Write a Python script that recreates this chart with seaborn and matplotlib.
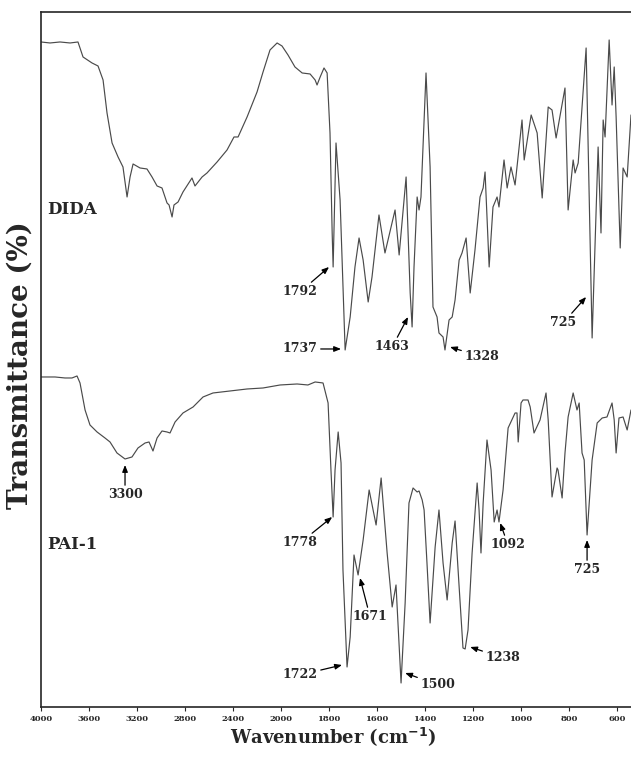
import numpy as np
import pandas as pd
import matplotlib
matplotlib.use('Agg')
import matplotlib.pyplot as plt
import seaborn as sns

# FTIR spectra, transmittance in arbitrary units (curves offset vertically)
dida_wn = [4000, 3925, 3842, 3758, 3692, 3650, 3575, 3525, 3483, 3450, 3408, 3358, 3317, 3283,
           3258, 3233, 3175, 3117, 3075, 3033, 2992, 2950, 2933, 2908, 2892, 2858, 2817, 2742,
           2717, 2658, 2617, 2533, 2450, 2392, 2358, 2283, 2200, 2150, 2092, 2033, 1996, 1971,
           1942, 1912, 1879, 1858, 1850, 1837, 1821, 1808, 1796, 1787, 1783, 1771, 1754, 1733,
           1712, 1692, 1675, 1658, 1637, 1621, 1592, 1567, 1525, 1508, 1479, 1462, 1454, 1446,
           1433, 1425, 1417, 1396, 1379, 1367, 1350, 1342, 1325, 1317, 1300, 1287, 1275, 1258,
           1246, 1229, 1212, 1192, 1171, 1158, 1150, 1133, 1117, 1100, 1092, 1071, 1058, 1042,
           1025, 996, 987, 958, 933, 912, 887, 871, 854, 817, 804, 783, 775, 762, 729, 704,
           679, 667, 658, 650, 633, 621, 612, 604, 587, 575, 558, 542]
dida_t = [665, 664, 665, 664, 665, 650, 644, 641, 627, 594, 564, 550, 540, 510,
          530, 543, 539, 538, 530, 521, 519, 504, 502, 490, 502, 505, 515, 529,
          521, 530, 534, 545, 557, 570, 570, 590, 615, 635, 657, 664, 661, 652,
          640, 634, 633, 627, 622, 630, 639, 634, 574, 474, 440, 564, 507, 357,
          390, 440, 469, 447, 405, 430, 492, 454, 497, 452, 530, 414, 380, 440,
          510, 497, 510, 634, 540, 400, 390, 374, 370, 357, 387, 390, 407, 447,
          454, 469, 414, 457, 510, 519, 535, 440, 500, 510, 500, 547, 519, 540,
          522, 587, 547, 592, 574, 509, 600, 597, 569, 619, 497, 547, 534, 544, 659, 369,
          560, 474, 587, 570, 667, 602, 640, 590, 459, 539, 530, 592]

pai_wn = [4000, 3883, 3800, 3742, 3700, 3675, 3633, 3592, 3533, 3467, 3425, 3367, 3300, 3242,
          3192, 3133, 3100, 3067, 3033, 2992, 2950, 2925, 2883, 2817, 2733, 2650, 2567, 2425,
          2283, 2150, 2008, 1933, 1888, 1858, 1825, 1804, 1792, 1783, 1775, 1762, 1750, 1742,
          1725, 1712, 1696, 1679, 1658, 1633, 1604, 1583, 1558, 1537, 1521, 1500, 1483, 1467,
          1450, 1433, 1425, 1412, 1404, 1392, 1379, 1358, 1342, 1325, 1308, 1287, 1275, 1258,
          1242, 1233, 1221, 1204, 1183, 1175, 1167, 1158, 1142, 1125, 1112, 1100, 1092, 1075,
          1054, 1025, 1017, 1012, 1000, 992, 971, 962, 946, 921, 896, 887, 871, 850, 846, 829,
          817, 804, 783, 767, 758, 746, 737, 725, 704, 683, 662, 642, 621, 612, 604, 592,
          575, 558, 542]
pai_t = [330, 330, 329, 329, 331, 324, 297, 282, 275, 269, 265, 254, 248, 250,
         259, 264, 265, 256, 269, 276, 275, 274, 285, 294, 300, 310, 314, 316,
         318, 319, 322, 323, 322, 325, 324, 304, 237, 190, 237, 275, 244, 137,
         40, 70, 152, 132, 167, 217, 182, 229, 154, 100, 122, 24, 104, 204,
         219, 215, 216, 207, 197, 144, 84, 160, 197, 144, 107, 164, 186, 120,
         59, 58, 77, 154, 224, 197, 154, 204, 267, 237, 185, 197, 185, 217,
         279, 294, 294, 265, 304, 307, 307, 300, 274, 287, 314, 287, 210, 239, 237, 209,
         254, 290, 314, 297, 304, 254, 247, 172, 247, 284, 289, 290, 304, 287, 254, 289,
         290, 277, 297]

# peak labels: (text, arrow tip wn, arrow tip T, text wn, text T)
dida_peaks = [("1792", 1800, 440, 1921, 415),
              ("1737", 1750, 358, 1921, 358),
              ("1463", 1471, 390, 1537, 360),
              ("1328", 1296, 360, 1163, 350),
              ("725", 729, 410, 825, 384)]
pai_peaks = [("3300", 3300, 242, 3300, 212),
             ("1778", 1787, 190, 1921, 164),
             ("1671", 1671, 129, 1629, 90),
             ("1722", 1746, 42, 1921, 32),
             ("1500", 1483, 34, 1346, 22),
             ("1238", 1212, 60, 1075, 49),
             ("1092", 1087, 184, 1054, 162),
             ("725", 725, 167, 725, 137)]

xticks = [4000, 3600, 3200, 2800, 2400, 2000, 1800, 1600, 1400, 1200, 1000, 800, 600]

df = pd.concat([
    pd.DataFrame({'wn': dida_wn, 'T': dida_t, 'sample': 'DIDA'}),
    pd.DataFrame({'wn': pai_wn, 'T': pai_t, 'sample': 'PAI-1'}),
])

sns.set_style("ticks")
plt.rcParams['font.family'] = ['DejaVu Serif']
plt.rcParams['font.weight'] = 'bold'


# FTIR axis: half scale above 2000 cm-1
def fwd(x):
    x = np.asarray(x, dtype=float)
    return np.where(x < 2000, x / 200.0, 10 + (x - 2000) / 400.0)


def inv(s):
    s = np.asarray(s, dtype=float)
    return np.where(s < 10, s * 200.0, 2000 + (s - 10) * 400.0)


fig = plt.figure(figsize=(6.31, 7.58), dpi=100)
ax = fig.add_axes([0.065, 0.0673, 0.935, 0.9169])

for name in ['DIDA', 'PAI-1']:
    sub = df[df['sample'] == name]
    sns.lineplot(data=sub, x='wn', y='T', ax=ax, color='#4a4a4a', lw=0.85,
                 estimator=None, sort=False, legend=False)

ax.set_xscale('function', functions=(fwd, inv))
ax.set_xlim(4000, 542)
ax.set_ylim(0, 695)
ax.set_xticks(xticks)
ax.set_xticklabels([str(t) for t in xticks], fontsize=6, fontweight='bold')
ax.xaxis.set_minor_locator(matplotlib.ticker.NullLocator())
ax.set_yticks([])
ax.tick_params(axis='x', direction='out', length=3, width=0.8, pad=3)
for s in ['left', 'bottom', 'top']:
    ax.spines[s].set_linewidth(1.2)
ax.spines['right'].set_visible(False)

ax.set_xlabel('Wavenumber (cm$^{\\mathbf{-1}}$)', fontsize=13, fontweight='bold')
ax.xaxis.set_label_coords(0.495, -0.042)
ax.xaxis.label.set_va('center')
ax.set_ylabel('Transmittance (%)', fontsize=20, fontweight='bold')
ax.yaxis.set_label_coords(-0.035, 0.492)
ax.yaxis.label.set_va('center')

ax.text(3950, 497, 'DIDA', fontsize=12, fontweight='bold', ha='left', va='center')
ax.text(3950, 162, 'PAI-1', fontsize=12, fontweight='bold', ha='left', va='center')

arrow = dict(arrowstyle='-|>,head_length=0.45,head_width=0.18', color='black', lw=0.9,
             shrinkA=0, shrinkB=0)
for lab, x, y, tx, ty in dida_peaks + pai_peaks:
    ax.annotate(lab, xy=(x, y), xytext=(tx, ty), fontsize=9, fontweight='bold',
                ha='center', va='center', arrowprops=arrow)

fig.savefig('out.png', dpi=100)
